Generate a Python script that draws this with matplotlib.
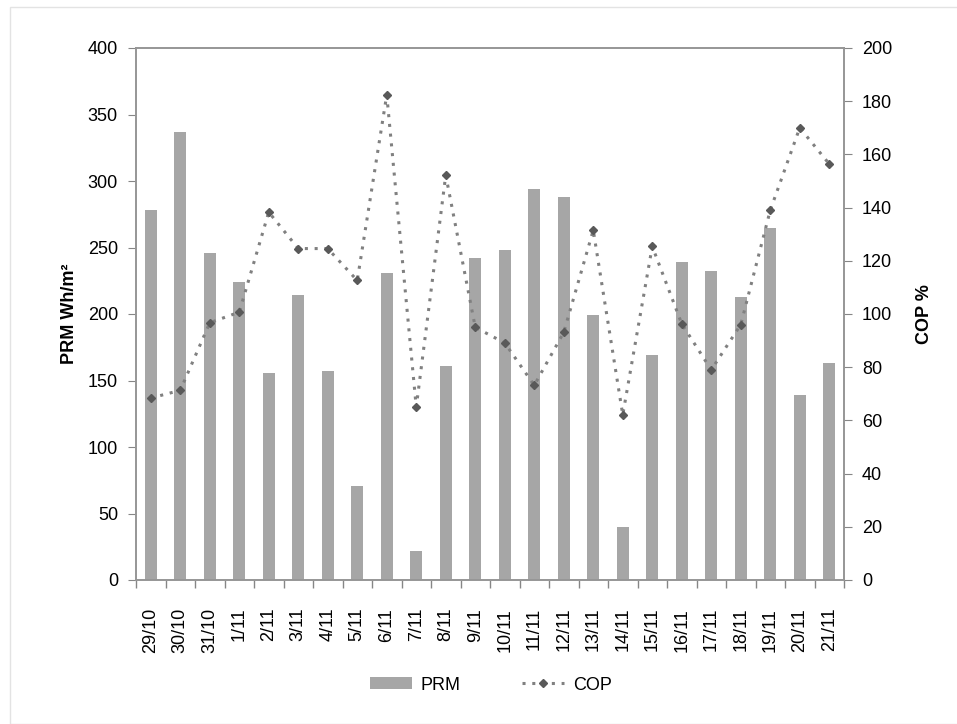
import numpy as np
import matplotlib.pyplot as plt
from matplotlib.patches import Rectangle, Patch
from matplotlib.lines import Line2D

plt.rcParams['font.family'] = ['Liberation Sans', 'DejaVu Sans']

# Данные
dates = ['29/10', '30/10', '31/10', '1/11', '2/11', '3/11', '4/11', '5/11', '6/11',
         '7/11', '8/11', '9/11', '10/11', '11/11', '12/11', '13/11', '14/11', '15/11',
         '16/11', '17/11', '18/11', '19/11', '20/11', '21/11']
prm = [278, 337, 246, 224, 156, 214, 157, 71, 231, 22, 161, 242,
       248, 294, 288, 199, 40, 169, 239, 232, 213, 265, 139, 163]
cop = [68.4, 71.3, 96.7, 100.7, 138.3, 124.6, 124.6, 112.6, 182.4, 65.0, 152.2, 95.0,
       89.1, 73.2, 93.1, 131.5, 62.1, 125.4, 96.3, 79.0, 96.0, 139.0, 170.0, 156.4]

W, H = 957, 724
fig = plt.figure(figsize=(W / 100, H / 100), dpi=100)
ax = fig.add_axes([136 / W, 1 - 580 / H, (844 - 136) / W, (580 - 48) / H])
ax2 = ax.twinx()

x = np.arange(len(dates))
bar_col = '#a6a6a6'
line_kw = dict(linestyle=(0, (1, 2.2)), linewidth=2.2, color='#808080',
               marker='D', markersize=4.5, markerfacecolor='#595959', markeredgecolor='#595959')
ax.bar(x, prm, width=0.42, color=bar_col, zorder=2)
ax2.plot(x, cop, **line_kw)

ax.set_xlim(-0.5, len(dates) - 0.5)
ax.set_ylim(0, 400)
ax2.set_ylim(0, 200)
ax.set_yticks(np.arange(0, 401, 50))
ax2.set_yticks(np.arange(0, 201, 20))

ax.set_xticks(x)
ax.set_xticklabels(dates, rotation=90, fontsize=13)
ax.set_xticks(np.arange(-0.5, len(dates)), minor=True)
ax.tick_params(axis='x', which='major', length=0, pad=20)
ax.tick_params(axis='x', which='minor', length=6, color='#868686', width=1)
ax.tick_params(axis='y', length=6, color='#868686', labelsize=13, pad=7)
ax2.tick_params(axis='y', length=6, color='#868686', labelsize=13, pad=7)

for a in (ax, ax2):
    for s in a.spines.values():
        s.set_color('#969696')
        s.set_linewidth(1.2)

ax.set_ylabel('PRM Wh/m²', fontsize=13, fontweight='bold', labelpad=7)
ax2.set_ylabel('COP %', fontsize=13, fontweight='bold', labelpad=17)

handles = [Patch(facecolor=bar_col, edgecolor='none'), Line2D([], [], **line_kw)]
fig.legend(handles, ['PRM', 'COP'], loc='center', bbox_to_anchor=(491 / W, 1 - 685 / H),
           ncol=2, frameon=False, fontsize=13, handlelength=2.3, handleheight=0.6,
           columnspacing=3.4, handletextpad=0.5)

# рамка вокруг диаграммы
fig.patches.append(Rectangle((10 / W, 0), 1.2, 1 - 7 / H, transform=fig.transFigure,
                             fill=False, edgecolor='#e3e3e3', linewidth=1))

fig.savefig('out.png', dpi=100)
